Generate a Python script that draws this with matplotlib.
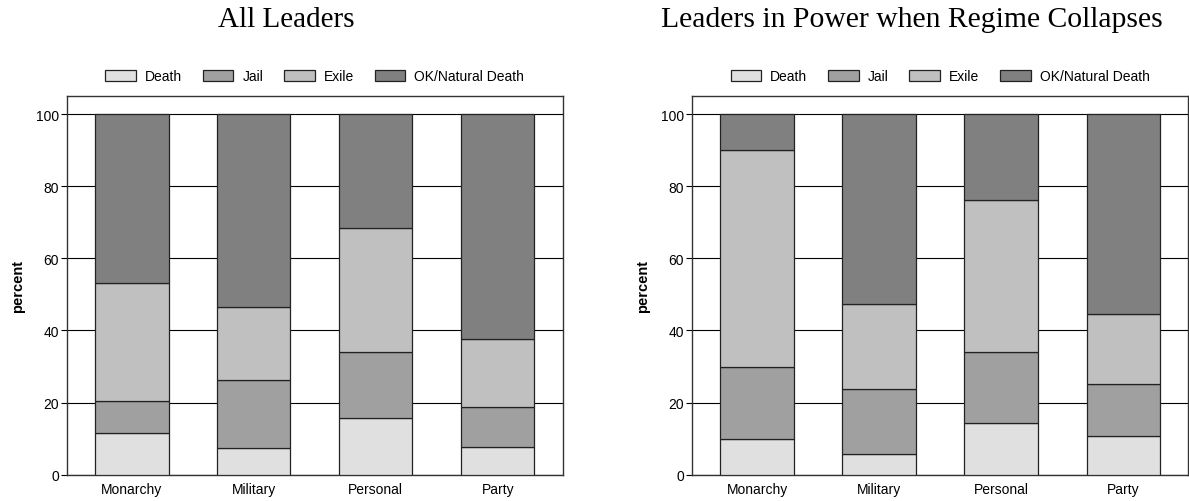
import matplotlib
matplotlib.use('Agg')
import matplotlib.pyplot as plt
import numpy as np

plt.rcParams['font.family'] = ['Liberation Sans', 'DejaVu Sans']

# regime types on the x axis
categories = ['Monarchy', 'Military', 'Personal', 'Party']
outcomes = ['Death', 'Jail', 'Exile', 'OK/Natural Death']
colors = ['#e0e0e0', '#a0a0a0', '#c0c0c0', '#808080']

# all leaders (percent)
all_death = [11.7, 7.5, 15.8, 7.8]
all_jail = [8.8, 18.9, 18.3, 11.1]
all_exile = [32.6, 20.0, 34.2, 18.6]
all_ok = [46.9, 53.6, 31.7, 62.5]

# leaders in power when the regime collapses (percent)
col_death = [10.0, 5.7, 14.2, 10.6]
col_jail = [20.0, 18.1, 19.7, 14.5]
col_exile = [60.0, 23.5, 42.3, 19.4]
col_ok = [10.0, 52.7, 23.8, 55.5]

titles = ['All Leaders', 'Leaders in Power when Regime Collapses']


def draw_panel(ax, series):
    x = np.arange(len(categories))
    bottom = np.zeros(len(categories))
    for vals, name, c in zip(series, outcomes, colors):
        ax.bar(x, vals, width=0.6, bottom=bottom, color=c, edgecolor='#222222',
               linewidth=0.9, label=name, zorder=3)
        bottom += np.array(vals)

    ax.set_xlim(-0.535, 3.535)
    ax.set_ylim(0, 104.9)
    ax.set_yticks([0, 20, 40, 60, 80, 100])
    ax.set_xticks(x)
    ax.set_xticklabels(categories)
    ax.tick_params(axis='x', length=0, pad=5, labelsize=10)
    ax.tick_params(axis='y', length=4, width=0.8, pad=1.5, labelsize=10)
    ax.grid(axis='y', color='black', linewidth=0.8)
    ax.set_axisbelow(True)
    for s in ax.spines.values():
        s.set_color('#333333')
        s.set_linewidth(1.0)
    ax.set_ylabel('percent', fontsize=10.5, fontweight='bold', labelpad=8)
    ax.legend(loc='center', bbox_to_anchor=(0.5, 1.054), ncol=4, frameon=False,
              fontsize=10, handlelength=2.2, handleheight=0.8,
              handletextpad=0.65, columnspacing=1.5, borderpad=0)


fig = plt.figure(figsize=(11.89, 5.02), dpi=100)
ax1 = fig.add_axes([0.0561, 0.0524, 0.4174, 0.7534])
ax2 = fig.add_axes([0.5818, 0.0524, 0.4177, 0.7534])

draw_panel(ax1, [all_death, all_jail, all_exile, all_ok])
draw_panel(ax2, [col_death, col_jail, col_exile, col_ok])

fig.text(0.241, 0.946, titles[0], ha='center', va='baseline',
         family='Liberation Serif', fontsize=21)
fig.text(0.767, 0.946, titles[1], ha='center', va='baseline',
         family='Liberation Serif', fontsize=21.3)

fig.savefig('out.png', dpi=100, facecolor='white')
